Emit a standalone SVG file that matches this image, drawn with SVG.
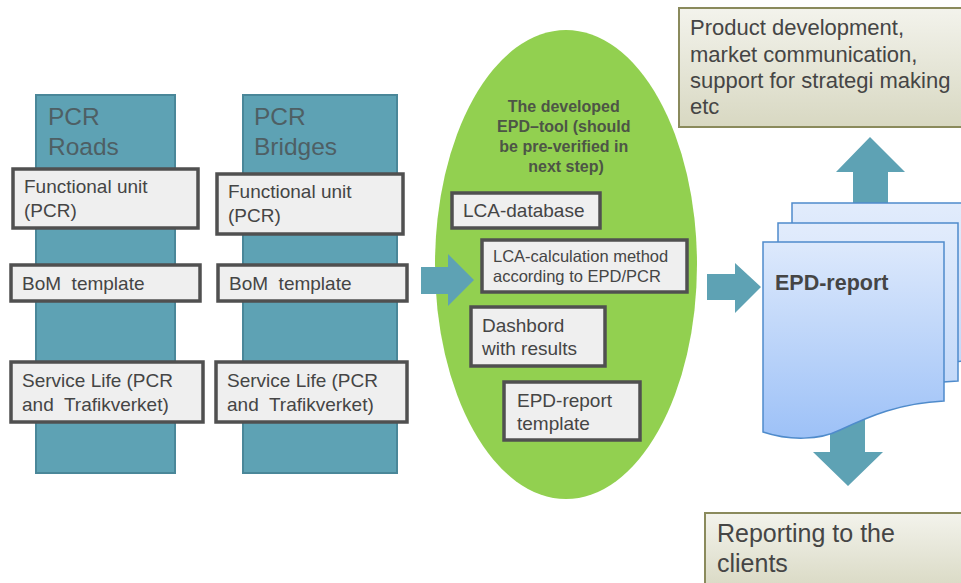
<svg xmlns="http://www.w3.org/2000/svg" width="961" height="583" viewBox="0 0 961 583">
<defs>
  <linearGradient id="olive" x1="0" y1="0" x2="0" y2="1">
    <stop offset="0" stop-color="#f3f3ec"/>
    <stop offset="1" stop-color="#d8d8c2"/>
  </linearGradient>
  <linearGradient id="docFront" x1="0" y1="0" x2="0" y2="1">
    <stop offset="0" stop-color="#dde9fc"/>
    <stop offset="1" stop-color="#9dc1f7"/>
  </linearGradient>
  <linearGradient id="docBack" x1="0" y1="0" x2="0" y2="1">
    <stop offset="0" stop-color="#e2ecfc"/>
    <stop offset="1" stop-color="#bcd4f8"/>
  </linearGradient>
</defs>
<style>
  .col { fill: #5ea2b4; stroke: #4a8799; stroke-width: 2; }
  .box { fill: #efefef; stroke: #505050; stroke-width: 3.5; }
  .t { font-family: "Liberation Sans", Arial, sans-serif; fill: #454545; }
  .s19 { font-size: 19px; }
  .title { font-family: "Liberation Sans", Arial, sans-serif; font-size: 24.5px; fill: #4e5f64; }
  .arrow { fill: #5ea2b4; }
  .obox { fill: url(#olive); stroke: #8a8a5c; stroke-width: 2; }
  .doc { stroke: #4f8bcb; stroke-width: 1.5; }
</style>

<g id="pcr-roads">
  <rect class="col" x="36" y="95" width="139" height="378"/>
  <text class="title" x="48" y="125">PCR</text>
  <text class="title" x="48" y="155">Roads</text>
  <g id="roads-fu">
    <rect class="box" x="13" y="169" width="185" height="59"/>
    <text class="t s19" x="24" y="193">Functional unit</text>
    <text class="t s19" x="24" y="217">(PCR)</text>
  </g>
  <g id="roads-bom">
    <rect class="box" x="11" y="265" width="189" height="36"/>
    <text class="t s19" x="22" y="290" xml:space="preserve">BoM  template</text>
  </g>
  <g id="roads-sl">
    <rect class="box" x="11" y="362" width="192" height="60"/>
    <text class="t s19" x="22" y="387">Service Life (PCR</text>
    <text class="t s19" x="22" y="411" xml:space="preserve">and  Trafikverket)</text>
  </g>
</g>

<g id="pcr-bridges">
  <rect class="col" x="243" y="95" width="154" height="378"/>
  <text class="title" x="254" y="125">PCR</text>
  <text class="title" x="254" y="155">Bridges</text>
  <g id="bridges-fu">
    <rect class="box" x="217" y="174" width="186" height="60"/>
    <text class="t s19" x="228" y="198">Functional unit</text>
    <text class="t s19" x="228" y="222">(PCR)</text>
  </g>
  <g id="bridges-bom">
    <rect class="box" x="218" y="265" width="189" height="36"/>
    <text class="t s19" x="229" y="290" xml:space="preserve">BoM  template</text>
  </g>
  <g id="bridges-sl">
    <rect class="box" x="216" y="362" width="191" height="60"/>
    <text class="t s19" x="227" y="387">Service Life (PCR</text>
    <text class="t s19" x="227" y="411" xml:space="preserve">and  Trafikverket)</text>
  </g>
</g>

<g id="epd-tool">
  <ellipse cx="566" cy="264.5" rx="131" ry="234.5" fill="#92d050"/>
  <text font-family="Liberation Sans, Arial, sans-serif" font-size="16" font-weight="bold" fill="#4d5546" text-anchor="middle">
    <tspan x="566" y="112">The developed</tspan>
    <tspan x="566" y="132">EPD–tool (should</tspan>
    <tspan x="566" y="152">be pre-verified in</tspan>
    <tspan x="566" y="172">next step)</tspan>
  </text>
  <g id="lca-db">
    <rect class="box" x="452" y="193" width="148" height="35"/>
    <text class="t s19" x="463" y="217">LCA-database</text>
  </g>
  <g id="lca-calc">
    <rect class="box" x="482" y="240" width="205" height="52"/>
    <text class="t" font-size="16.5" x="493" y="262">LCA-calculation method</text>
    <text class="t" font-size="16.5" x="493" y="282">according to EPD/PCR</text>
  </g>
  <g id="dashbord">
    <rect class="box" x="471" y="307" width="134" height="59"/>
    <text class="t s19" x="482" y="332">Dashbord</text>
    <text class="t s19" x="482" y="355">with results</text>
  </g>
  <g id="epd-template">
    <rect class="box" x="504" y="382" width="136" height="58"/>
    <text class="t s19" x="517" y="407">EPD-report</text>
    <text class="t s19" x="517" y="430">template</text>
  </g>
</g>

<g id="connectors">
  <polygon class="arrow" points="421,267 448,267 448,254 474,280 448,306 448,294 421,294"/>
  <polygon class="arrow" points="707,274 735,274 735,263 761,287 735,313 735,300 707,300"/>
  <polygon class="arrow" points="853,215 853,172 836,172 870,137 905,172 888,172 888,215"/>
  <polygon class="arrow" points="830,395 865,395 865,452 883,452 848,486 813,452 830,452"/>
</g>

<g id="epd-report">
  <path class="doc" fill="url(#docBack)" d="M792,203 H966 V361 C922,363 892,375 862,390 C842,400 812,400 792,393 Z"/>
  <path class="doc" fill="url(#docBack)" d="M778,223 H958 V381 C914,383 884,395 854,410 C834,420 804,420 778,413 Z"/>
  <path class="doc" fill="url(#docFront)" d="M763,242 H944 V401 C900,403 870,416 840,430 C820,440 790,441 763,432 Z"/>
  <text class="t" font-size="21.5" font-weight="bold" fill="#404040" x="775" y="290">EPD-report</text>
</g>

<g id="product-development">
  <rect class="obox" x="679" y="8" width="292" height="119"/>
  <text class="t" font-size="22" fill="#505050" x="690" y="35">Product development,</text>
  <text class="t" font-size="22" fill="#505050" x="690" y="62">market communication,</text>
  <text class="t" font-size="22" fill="#505050" x="690" y="88">support for strategi making</text>
  <text class="t" font-size="22" fill="#505050" x="690" y="114">etc</text>
</g>

<g id="reporting-clients">
  <rect class="obox" x="705" y="513" width="266" height="80"/>
  <text class="t" font-size="25" fill="#505050" x="717" y="542">Reporting to the</text>
  <text class="t" font-size="25" fill="#505050" x="717" y="572">clients</text>
</g>
</svg>
